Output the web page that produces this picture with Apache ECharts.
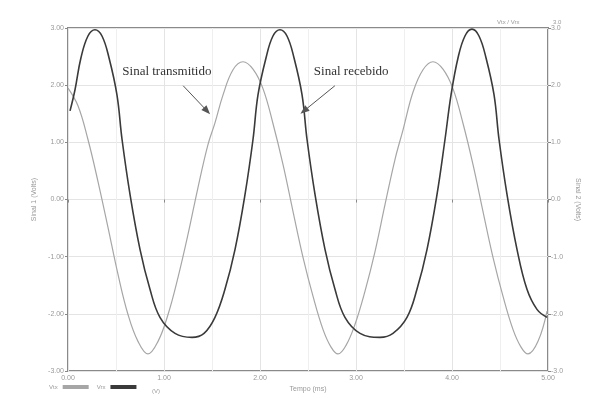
<!DOCTYPE html>
<html>
<head>
<meta charset="utf-8">
<script src="https://cdn.jsdelivr.net/npm/echarts@6/dist/echarts.min.js"></script>
<style>
  html, body { margin: 0; padding: 0; background: #fff; }
  #chart { width: 596px; height: 398px; }
</style>
</head>
<body>
<div id="chart"></div>
<script>
// Time axis (ms) and the two waveforms, in volts
const tTx = [0.000, 0.104, 0.208, 0.313, 0.417, 0.521, 0.625, 0.729, 0.833, 0.938,
  1.042, 1.146, 1.250, 1.354, 1.458, 1.531, 1.615, 1.719, 1.823, 1.927,
  2.031, 2.135, 2.240, 2.344, 2.448, 2.552, 2.656, 2.740, 2.813, 2.896,
  2.990, 3.094, 3.198, 3.302, 3.406, 3.490, 3.594, 3.698, 3.802, 3.906,
  4.010, 4.115, 4.219, 4.323, 4.427, 4.531, 4.635, 4.719, 4.792, 4.896, 4.990];
const vTx = [1.95, 1.64, 1.05, 0.31, -0.49, -1.31, -2.01, -2.48, -2.70, -2.48,
  -2.01, -1.36, -0.61, 0.21, 0.96, 1.34, 1.83, 2.27, 2.41, 2.28,
  1.94, 1.33, 0.61, -0.21, -1.01, -1.69, -2.27, -2.58, -2.70, -2.55,
  -2.18, -1.60, -0.91, -0.09, 0.70, 1.22, 1.88, 2.27, 2.41, 2.28,
  1.94, 1.33, 0.61, -0.21, -1.01, -1.69, -2.27, -2.58, -2.70, -2.48, -1.95];

const tRx = [0.021, 0.073, 0.135, 0.208, 0.281, 0.354, 0.427, 0.510, 0.563, 0.646,
  0.750, 0.854, 0.958, 1.115, 1.292, 1.417, 1.531, 1.635, 1.740, 1.844,
  1.927, 1.979, 2.063, 2.135, 2.208, 2.281, 2.354, 2.438, 2.490, 2.573,
  2.677, 2.781, 2.885, 3.042, 3.250, 3.385, 3.531, 3.635, 3.740, 3.844,
  3.927, 3.990, 4.063, 4.135, 4.208, 4.281, 4.354, 4.438, 4.490, 4.573,
  4.677, 4.781, 4.885, 4.990];
const vRx = [1.55, 1.92, 2.48, 2.86, 2.97, 2.86, 2.48, 1.83, 1.05, 0.09,
  -0.87, -1.57, -2.06, -2.34, -2.41, -2.34, -2.06, -1.57, -0.87, 0.09,
  1.05, 1.83, 2.48, 2.86, 2.97, 2.86, 2.48, 1.83, 1.05, 0.09,
  -0.87, -1.57, -2.06, -2.34, -2.41, -2.34, -2.06, -1.57, -0.87, 0.09,
  1.05, 1.83, 2.48, 2.86, 2.98, 2.86, 2.48, 1.83, 1.05, 0.09,
  -0.87, -1.57, -1.92, -2.06];

// Callout labels and the points their arrows indicate
const labelTx = { text: 'Sinal transmitido', at: [1.03, 2.23], from: [1.20, 1.99], to: [1.448, 1.55] };
const labelRx = { text: 'Sinal recebido', at: [2.95, 2.23], from: [2.78, 1.99], to: [2.458, 1.55] };

const xMin = 0, xMax = 5, xStep = 1;
const yMin = -3, yMax = 3, yStep = 1;

const pair = (xs, ys) => xs.map((x, i) => [x, ys[i]]);

const tickFont = { fontSize: 7, color: '#999', fontFamily: 'Liberation Sans' };
const gridColor = '#e4e4e4';

const chart = echarts.init(document.getElementById('chart'), null, { renderer: 'canvas' });

chart.setOption({
  animation: false,
  backgroundColor: '#fff',
  grid: {
    left: 68, right: 48, top: 28, bottom: 26,
    show: true, borderColor: '#8a8a8a', borderWidth: 2, backgroundColor: 'transparent'
  },
  legend: {
    left: 44, bottom: 3,
    align: 'right',
    itemWidth: 26, itemHeight: 4, itemGap: 8,
    icon: 'rect',
    textStyle: { fontSize: 6, color: '#999', fontFamily: 'Liberation Sans' },
    data: ['Vtx', 'Vrx']
  },
  xAxis: {
    type: 'value', min: xMin, max: xMax, interval: xStep,
    name: 'Tempo (ms)', nameLocation: 'middle', nameGap: 10,
    nameTextStyle: { fontSize: 7, color: '#999' },
    axisLine: { show: false },
    axisTick: { show: true, length: 3, lineStyle: { color: '#888' } },
    axisLabel: Object.assign({ margin: 3, formatter: v => v.toFixed(2) }, tickFont),
    splitLine: { show: true, lineStyle: { color: gridColor, width: 1 } },
    minorTick: { show: false, splitNumber: 2 },
    minorSplitLine: { show: true, lineStyle: { color: '#efefef', width: 1 } }
  },
  yAxis: [
    {
      type: 'value', min: yMin, max: yMax, interval: yStep,
      name: 'Sinal 1 (Volts)', nameLocation: 'middle', nameGap: 26,
      nameTextStyle: { fontSize: 7, color: '#999' },
      axisLine: { show: false },
      axisTick: { show: true, length: 3, lineStyle: { color: '#888' } },
      axisLabel: Object.assign({ margin: 4, formatter: v => v.toFixed(2) }, tickFont),
      splitLine: { show: true, lineStyle: { color: gridColor, width: 1 } }
    },
    {
      type: 'value', min: yMin, max: yMax, interval: yStep, position: 'right',
      name: 'Sinal 2 (Volts)', nameLocation: 'middle', nameGap: 22, nameRotate: -90,
      nameTextStyle: { fontSize: 7, color: '#999' },
      axisLine: { show: false },
      axisTick: { show: true, length: 3, lineStyle: { color: '#888' } },
      axisLabel: Object.assign({ margin: 3, formatter: v => v.toFixed(1) }, tickFont),
      splitLine: { show: false }
    }
  ],
  series: [
    {
      name: 'Vtx', type: 'line', yAxisIndex: 0,
      data: pair(tTx, vTx), smooth: 0.4, symbol: 'none',
      lineStyle: { color: '#a6a6a6', width: 1.2 },
      itemStyle: { color: '#a6a6a6' },
      markLine: {
        silent: true, symbol: ['none', 'triangle'], symbolSize: [7, 9],
        label: { show: false },
        lineStyle: { color: '#555', width: 1, type: 'solid' },
        data: [
          [{ coord: labelTx.from }, { coord: labelTx.to }],
          [{ coord: labelRx.from }, { coord: labelRx.to }]
        ]
      },
      markPoint: {
        silent: true, symbol: 'circle', symbolSize: 0,
        label: {
          show: true, position: 'inside',
          fontFamily: 'Liberation Serif', fontSize: 13, color: '#333',
          formatter: p => p.name
        },
        data: [
          { name: labelTx.text, coord: labelTx.at },
          { name: labelRx.text, coord: labelRx.at }
        ]
      }
    },
    {
      name: 'Vrx', type: 'line', yAxisIndex: 1,
      data: pair(tRx, vRx), smooth: 0.4, symbol: 'none',
      lineStyle: { color: '#3a3a3a', width: 1.6 },
      itemStyle: { color: '#3a3a3a' }
    }
  ],
  graphic: [
    { type: 'text', left: 152, bottom: 4, style: { text: '(V)', fontSize: 6, fill: '#999' } },
    { type: 'text', left: 497, top: 19, style: { text: 'Vtx / Vrx', fontSize: 6, fill: '#999' } },
    { type: 'text', left: 553, top: 19, style: { text: '3.0', fontSize: 6, fill: '#999' } }
  ]
});
</script>
</body>
</html>
